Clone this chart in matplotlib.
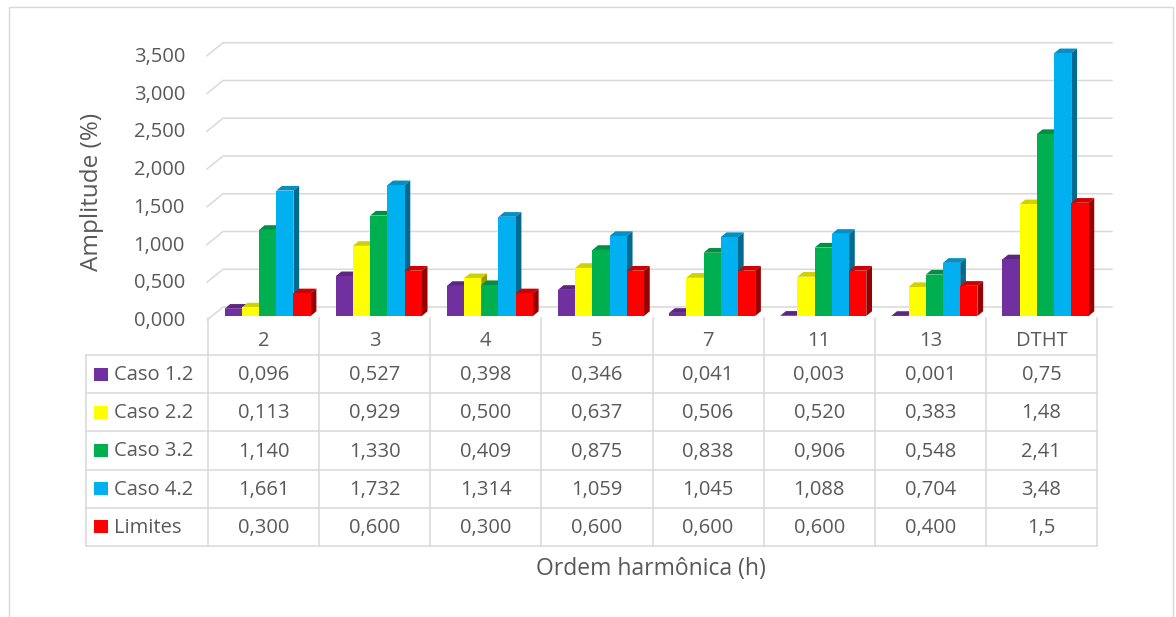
import matplotlib
matplotlib.use('Agg')
import matplotlib.pyplot as plt
import matplotlib.transforms as mtransforms
from matplotlib.colors import to_rgb
from matplotlib.patches import Polygon, Rectangle
from matplotlib.lines import Line2D
import numpy as np

categorias = ['2', '3', '4', '5', '7', '11', '13', 'DTHT']
series = ['Caso 1.2', 'Caso 2.2', 'Caso 3.2', 'Caso 4.2', 'Limites']
caso_1_2 = [0.096, 0.527, 0.398, 0.346, 0.041, 0.003, 0.001, 0.75]
caso_2_2 = [0.113, 0.929, 0.500, 0.637, 0.506, 0.520, 0.383, 1.48]
caso_3_2 = [1.140, 1.330, 0.409, 0.875, 0.838, 0.906, 0.548, 2.41]
caso_4_2 = [1.661, 1.732, 1.314, 1.059, 1.045, 1.088, 0.704, 3.48]
limites = [0.300, 0.600, 0.300, 0.600, 0.600, 0.600, 0.400, 1.5]
valores = [caso_1_2, caso_2_2, caso_3_2, caso_4_2, limites]
yticks = [0.0, 0.5, 1.0, 1.5, 2.0, 2.5, 3.0, 3.5]
cores = ['#7030A0', '#FFFF00', '#00B050', '#00B0F0', '#FF0000']

W, H = 1176, 617
cinza = '#595959'
linha = '#d9d9d9'
plt.rcParams['font.family'] = ['Open Sans', 'DejaVu Sans']
fs = 14.5

fig = plt.figure(figsize=(W / 100, H / 100), dpi=100)
ax = fig.add_axes([208 / W, 1 - 316 / H, 889 / W, 286 / H])
ax.set_xlim(0, len(categorias))
ax.set_ylim(0, 286 / 75.5)
ax.set_axis_off()

# pixel coordinates measured from the top-left corner of the figure
pix = mtransforms.Affine2D().scale(1, -1).translate(0, H)


def desloca(x, y, dx, dy):
    # move a data point by (dx, dy) screen pixels, dy pointing up
    px, py = ax.transData.transform((x, y))
    return ax.transData.inverted().transform((px + dx, py + dy))


def escurece(cor, f):
    r, g, b = to_rgb(cor)
    return (r * f, g * f, b * f)


def fmt(v, geral=False):
    s = f'{v:g}' if geral else f'{v:.3f}'
    return s.replace('.', ',')


# walls: gridlines with the short perspective step on the left
n = len(categorias)
for t in yticks:
    a = desloca(0, t, -1, -4)
    b = desloca(0, t, 15, 9)
    c = desloca(n, t, 15, 9)
    ax.plot([a[0], b[0], c[0]], [a[1], b[1], c[1]], color=linha, lw=1.1,
            zorder=0, clip_on=False, solid_joinstyle='miter')
    p = desloca(0, t, -23, -5)
    ax.text(p[0], p[1], fmt(t), ha='right', va='center', fontsize=fs,
            color=cinza)

# 3D-looking clustered columns
largura = 0.155
inicio = 0.149
prof_x, prof_y = 5.7, 4.7
x = np.arange(n)
for k, (vals, cor) in enumerate(zip(valores, cores)):
    xs = x + inicio + k * largura
    ax.bar(xs, vals, width=largura, align='edge', color=cor, linewidth=0,
           zorder=3 + 2 * k)
    for xi, v in zip(xs, vals):
        x0, x1 = xi, xi + largura
        topo = [(x0, v), (x1, v), desloca(x1, v, prof_x, prof_y),
                desloca(x0, v, prof_x, prof_y)]
        lado = [(x1, 0), desloca(x1, 0, prof_x, prof_y),
                desloca(x1, v, prof_x, prof_y), (x1, v)]
        ax.add_patch(Polygon(topo, closed=True, facecolor=escurece(cor, 0.82),
                             lw=0, zorder=2 + 2 * k, clip_on=False))
        ax.add_patch(Polygon(lado, closed=True, facecolor=escurece(cor, 0.6),
                             lw=0, zorder=2 + 2 * k, clip_on=False))

# data table below the plot
cx = [ax.transData.transform((i, 0))[0] for i in range(n + 1)]
linhas_y = [355, 393.2, 431.4, 469.6, 507.8, 546]
esq = 86


def traco(xs, ys):
    fig.add_artist(Line2D(xs, ys, transform=pix, color=linha, lw=1.1))


for xc in cx:
    traco([xc, xc], [318, linhas_y[-1]])
traco([esq, esq], [linhas_y[0], linhas_y[-1]])
for yl in linhas_y:
    traco([esq, cx[-1]], [yl, yl])

for i, cat in enumerate(categorias):
    fig.text((cx[i] + cx[i + 1]) / 2, 341, cat, transform=pix, ha='center',
             va='center', fontsize=fs, color=cinza)

for r, (nome, vals, cor) in enumerate(zip(series, valores, cores)):
    ym = (linhas_y[r] + linhas_y[r + 1]) / 2
    fig.add_artist(Rectangle((94, ym - 6.5), 14, 13, transform=pix,
                             facecolor=cor, lw=0))
    fig.text(114, ym + 1, nome, transform=pix, ha='left', va='center',
             fontsize=fs, color=cinza)
    for i, v in enumerate(vals):
        fig.text((cx[i] + cx[i + 1]) / 2, ym + 1,
                 fmt(v, categorias[i] == 'DTHT'), transform=pix,
                 ha='center', va='center', fontsize=fs, color=cinza)

fig.text(651, 569, 'Ordem harmônica (h)', transform=pix, ha='center',
         va='center', fontsize=16.5, color=cinza)
fig.text(92, 192, 'Amplitude (%)', transform=pix, ha='center', va='center',
         rotation=90, fontsize=17.5, color=cinza)

fig.add_artist(Rectangle((9, 7), 1164, 620, transform=pix, fill=False,
                         edgecolor=linha, lw=1))

fig.savefig('out.png', dpi=100)
